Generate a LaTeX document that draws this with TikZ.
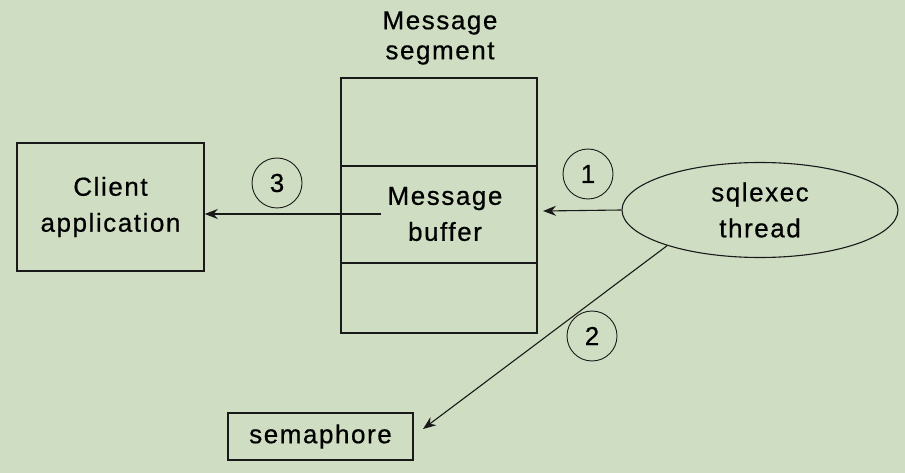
\documentclass[tikz,border=0pt]{standalone}
\usepackage{fontspec}
\setmainfont{Liberation Sans}[LetterSpace=6,FakeBold=0.6]
\usetikzlibrary{shapes.geometric,arrows.meta}
\definecolor{bg}{RGB}{207,222,195}
\definecolor{ln}{RGB}{25,25,25}
\begin{document}
\begin{tikzpicture}[x=1pt,y=-1pt,
  every node/.style={font=\fontsize{26}{36}\selectfont, text=black, inner sep=0pt},
  box/.style={draw=ln, line width=1.6pt, rectangle, align=center},
  num/.style={draw=ln, circle, line width=0.9pt, minimum size=50pt},
  arr/.style={draw=ln, line width=1.1pt, -{Stealth[length=13pt,width=10pt]}},
  divider/.style={draw=ln, line width=1.6pt}]
\fill[bg] (0,0) rectangle (905,473);
\useasboundingbox (0,0) rectangle (905,473);
% boxes
\node[box, minimum width=187pt, minimum height=128pt] (client) at (110.5,207) {Client\\application};
\node[box, minimum width=196pt, minimum height=255pt] (seg) at (439,205.5) {};
\node[font=\fontsize{26}{30}\selectfont, align=center] (title) at (440,38) {Message\\segment};
\draw[divider] (seg.west |- 0,166) -- (seg.east |- 0,166);
\draw[divider] (seg.west |- 0,263) -- (seg.east |- 0,263);
\node[align=center, inner xsep=6pt] (buf) at (445,214) {Message\\buffer};
\node[draw=ln, ellipse, line width=1.1pt, minimum width=276pt, minimum height=95pt, align=center] (thread) at (760,210) {sqlexec\\thread};
\node[box, minimum width=185pt, minimum height=47pt] (sem) at (320.5,436.5) {semaphore};
% number circles
\node[num] (c3) at (277,183) {3};
\node[num] (c1) at (588,174) {1};
\node[num] (c2) at (592,336) {2};
% connectors
\coordinate (t1) at (543,211);
\coordinate (t2) at (423,429);
\draw[arr] (buf.west) -- (client.east |- buf.west);
\draw[arr] (thread.west) -- (t1);
\draw[arr] (thread.201) -- (t2);
\end{tikzpicture}
\end{document}
